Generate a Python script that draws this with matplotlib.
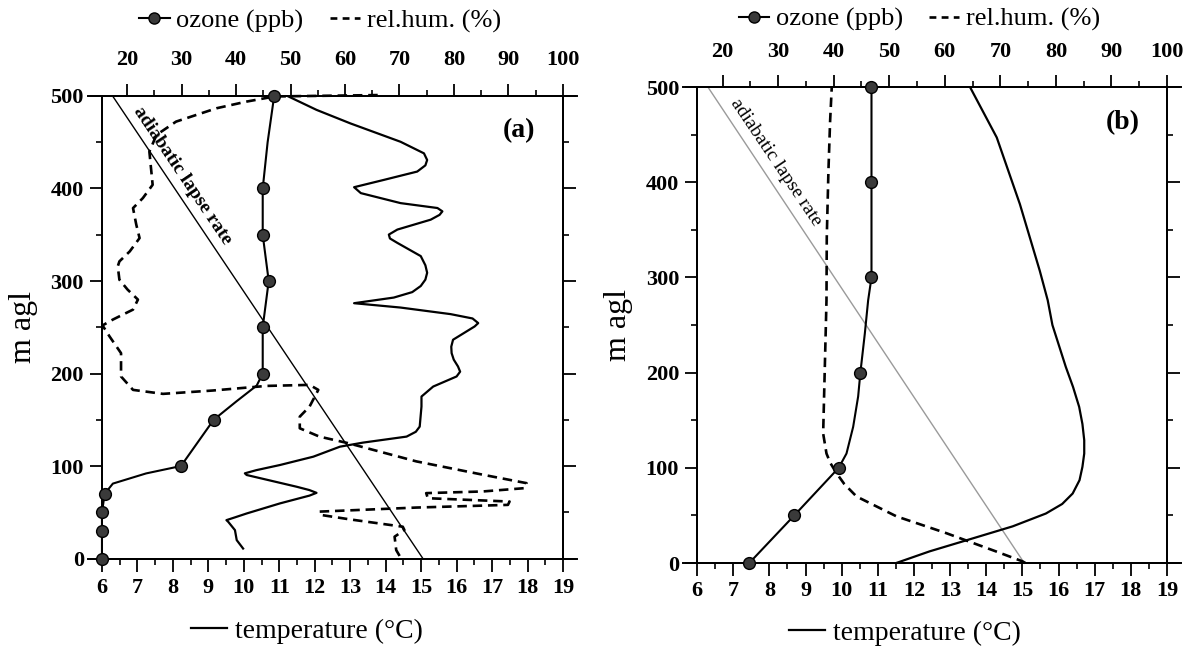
import matplotlib
matplotlib.use('Agg')
import matplotlib.pyplot as plt
from matplotlib.lines import Line2D
from matplotlib.ticker import MultipleLocator, FixedLocator

plt.rcParams['font.family'] = ['Liberation Serif', 'DejaVu Serif']

# ---------------- data: panel (a) ----------------
a_ozone_marker_h = [0, 30, 50, 70, 100, 150, 200, 250, 300, 350, 400, 500]
a_ozone_marker_v = [15.4, 15.4, 15.4, 15.9, 29.9, 35.9, 44.9, 44.9, 46.0, 44.9, 44.9, 47.0]
a_ozone_line_h = [0, 30, 50, 70, 81, 92, 100, 150, 170, 187, 200, 250, 300, 350, 400, 450, 500]
a_ozone_line_v = [15.4, 15.4, 15.4, 15.9, 17.4, 23.5, 29.9, 35.9, 40.1, 43.8, 44.9, 44.9, 46.0, 44.9, 44.9, 45.8, 47.0]

a_temp_h = [10.8, 19.9, 30.7, 39.7, 41.5, 44.5, 48.7, 59.6, 68.0, 71.0, 74.0, 77.6, 90.3, 92.1, 95.5,
            101.1, 110.1, 120.9, 125.3, 131.8, 137.0, 142.6, 164.3, 175.1, 185.9, 196.8, 202.0,
            207.6, 215.0, 222, 229.0, 236.5, 250.9, 254.5, 259.5, 264.2, 271.3, 276, 282.1,
            288.0, 294.6, 301.5, 308.9, 317.0, 326.9, 341.2, 346.0, 350.2, 355.6, 366.3, 371.5,
            375.3, 378.9, 384.2, 395, 401.4, 409.3, 418.3, 425.0, 430.8, 438, 450.5, 470.3,
            485, 500]
a_temp_T = [9.98, 9.80, 9.75, 9.56, 9.51, 9.75, 10.08, 11.02, 11.85, 12.05, 11.85, 11.49, 10.08, 10.03, 10.35,
            11.02, 11.96, 12.71, 13.36, 14.59, 14.85, 14.96, 15.01, 15.01, 15.34, 16.0, 16.10,
            16.04, 15.92, 15.86, 15.85, 15.90, 16.51, 16.61, 16.45, 15.83, 14.42, 13.11, 14.23,
            14.75, 14.99, 15.12, 15.17, 15.12, 14.99, 14.33, 14.12, 14.09, 14.33, 15.27, 15.52,
            15.60, 15.46, 14.42, 13.30, 13.11, 13.95, 14.89, 15.12, 15.17, 15.08, 14.42, 13.01,
            12.05, 11.23]

a_rh_h = [501, 499.5, 493.9, 486.7, 472.3, 457.9, 439.9, 421.9, 404, 389.6, 378.8, 360.8, 346.4,
          332, 321.2, 315.8, 301.4, 290.7, 279.9, 269.1, 258.3, 252, 240, 222, 196.8, 182.3, 178,
          181.6, 186.6, 187.7, 182.3, 164.3, 153.4, 140.8, 131.8, 124.8, 105, 90.6, 81.5, 76.1,
          72.5, 70.7, 65.2, 61.6, 58, 55.1, 50.7, 47.1, 42.4, 34.4, 30.8, 23.6, 9.1, 0]
a_rh_v = [66, 47.1, 41.9, 36.4, 29.0, 25.4, 24.1, 24.4, 24.7, 22.9, 21.1, 21.7, 22.3,
          20.5, 18.6, 18.3, 18.6, 20.1, 22.0, 21.1, 17.4, 15.5, 16.8, 18.9, 18.9, 21.1, 26.6,
          35.7, 45.6, 53.5, 55.1, 53.5, 51.7, 51.7, 55.3, 60.5, 73.1, 85.3, 93.3, 93.0,
          85.3, 74.9, 75.2, 90.2, 89.9, 73.1, 55.3, 55.6, 60.8, 70.6, 70.9, 69.1, 69.4, 70.3]

# ---------------- data: panel (b) ----------------
b_ozone_marker_h = [0, 50, 100, 200, 300, 400, 500]
b_ozone_marker_v = [24.8, 32.9, 40.9, 44.8, 46.8, 46.8, 46.8]
b_ozone_line_h = [0, 50, 100, 115, 143, 175, 200, 241, 276, 300, 400, 500]
b_ozone_line_v = [24.8, 32.9, 40.9, 42.3, 43.5, 44.4, 44.8, 45.6, 46.2, 46.8, 46.8, 46.8]

b_temp_h = [0, 12.2, 22.7, 38.5, 52, 62, 73, 87, 101, 115, 129, 146, 164, 185, 206, 250, 276, 307,
            377, 447, 500]
b_temp_T = [11.51, 12.43, 13.35, 14.73, 15.65, 16.10, 16.39, 16.58, 16.66, 16.71, 16.71, 16.66,
            16.57, 16.40, 16.20, 15.83, 15.70, 15.48, 14.93, 14.29, 13.55]

b_rh_h = [0, 1.7, 12.2, 31.5, 49, 69.9, 83, 94.4, 105, 115, 136, 206, 276, 342, 412, 464, 500]
b_rh_v = [74.5, 74.0, 69.2, 60.2, 51.3, 44.1, 41.9, 40.5, 39.4, 38.7, 38.1, 38.4, 38.7, 38.75,
          39.05, 39.35, 39.65]

# adiabatic lapse-rate line (temperature, height)
adiab_T = [15.05, 6.3]
adiab_h = [0, 500]

temp_ticks = list(range(6, 20))
top_ticks = [20, 30, 40, 50, 60, 70, 80, 90, 100]
top_minor = [25, 35, 45, 55, 65, 75, 85, 95]
height_ticks = [0, 100, 200, 300, 400, 500]

fig = plt.figure(figsize=(11.94, 6.49), dpi=100)
axA = fig.add_axes([0.0854, 0.1394, 0.3861, 0.7127])
axB = fig.add_axes([0.5838, 0.1325, 0.3936, 0.7334])

DARK = '#3a3a3a'


def panel(ax, oz_mh, oz_mv, oz_lh, oz_lv, t_h, t_T, rh_h, rh_v, adiab_color, adiab_lw,
          text_weight, label, text_xy, bottom_pad, top_pad, ylab_x):
    ax.set_xlim(6, 19)
    ax.set_ylim(0, 500)
    tax = ax.twiny()
    tax.set_xlim(15.4, 100)

    ax.plot(adiab_T, adiab_h, color=adiab_color, lw=adiab_lw, zorder=2)
    ax.plot(t_T, t_h, color='black', lw=1.6, solid_joinstyle='round', zorder=3)
    tax.plot(rh_v, rh_h, color='black', lw=1.9, linestyle=(0, (3.6, 2.2)), clip_on=False, zorder=3)
    tax.plot(oz_lv, oz_lh, color='black', lw=1.5, solid_joinstyle='round', zorder=4, clip_on=False)
    tax.plot(oz_mv, oz_mh, linestyle='none', marker='o', markersize=8.5,
             markerfacecolor=DARK, markeredgecolor='black', markeredgewidth=1.0,
             zorder=5, clip_on=False)

    for a in (ax, tax):
        for s in a.spines.values():
            s.set_linewidth(1.4)
    ax.xaxis.set_major_locator(FixedLocator(temp_ticks))
    ax.xaxis.set_minor_locator(MultipleLocator(0.5))
    ax.yaxis.set_major_locator(FixedLocator(height_ticks))
    ax.yaxis.set_minor_locator(MultipleLocator(50))
    ax.tick_params(axis='x', which='both', direction='out', bottom=True, top=False,
                   labelsize=16, pad=bottom_pad)
    ax.tick_params(axis='y', which='both', direction='out', left=True, right=True,
                   labelright=False, labelsize=16, pad=4)
    ax.tick_params(which='major', length=9, width=1.3)
    ax.tick_params(which='minor', length=4.5, width=1.2)
    tax.xaxis.set_major_locator(FixedLocator(top_ticks))
    tax.xaxis.set_minor_locator(FixedLocator(top_minor))
    tax.tick_params(axis='x', which='both', direction='out', top=True, bottom=False,
                    labelsize=16, pad=top_pad)
    tax.tick_params(which='major', length=9, width=1.3)
    tax.tick_params(which='minor', length=4.5, width=1.2)
    for lab in ax.get_xticklabels() + ax.get_yticklabels() + tax.get_xticklabels():
        lab.set_fontweight('bold')

    for yy in (0, 1):
        ax.plot([-0.03, 1.03], [yy, yy], transform=ax.transAxes, color='black',
                lw=1.4, clip_on=False, zorder=6)

    ax.set_ylabel('m agl', fontsize=23)
    ax.yaxis.set_label_coords(ylab_x, 0.5)

    ax.text(text_xy[0], text_xy[1], 'adiabatic lapse rate', fontsize=14,
            fontweight=text_weight, rotation=-56, rotation_mode='anchor',
            ha='center', va='center', zorder=4)
    ax.text(0.905, 0.925, label, transform=ax.transAxes, fontsize=20,
            fontweight='bold', ha='center', va='center')
    return tax


panel(axA, a_ozone_marker_h, a_ozone_marker_v, a_ozone_line_h, a_ozone_line_v,
      a_temp_h, a_temp_T, a_rh_h, a_rh_v, 'black', 1.0, 'bold', '(a)', (8.28, 414), 5, 10, -0.138)
panel(axB, b_ozone_marker_h, b_ozone_marker_v, b_ozone_line_h, b_ozone_line_v,
      b_temp_h, b_temp_T, b_rh_h, b_rh_v, '#9a9a9a', 1.0, 'normal', '(b)', (8.19, 421), 4, 9, -0.137)

oz_handle = Line2D([], [], color='black', lw=1.5, marker='o', markersize=8,
                   markerfacecolor=DARK, markeredgecolor='black')
rh_handle = Line2D([], [], color='black', lw=1.9, linestyle=(0, (2.6, 2.0)))
t_handle = Line2D([], [], color='black', lw=1.6)

for cx, cy in ((0.268, 0.968), (0.770, 0.970)):
    fig.legend([oz_handle, rh_handle], ['ozone (ppb)', 'rel.hum. (%)'], loc='center',
               bbox_to_anchor=(cx, cy), ncol=2, frameon=False, fontsize=19,
               handlelength=1.15, handletextpad=0.25, columnspacing=1.0,
               borderpad=0, borderaxespad=0)
for cx, cy in ((0.257, 0.028), (0.758, 0.024)):
    fig.legend([t_handle], ['temperature (°C)'], loc='center', bbox_to_anchor=(cx, cy),
               frameon=False, fontsize=20, handlelength=1.3, handletextpad=0.3,
               borderpad=0, borderaxespad=0)

fig.savefig('out.png', dpi=100)
